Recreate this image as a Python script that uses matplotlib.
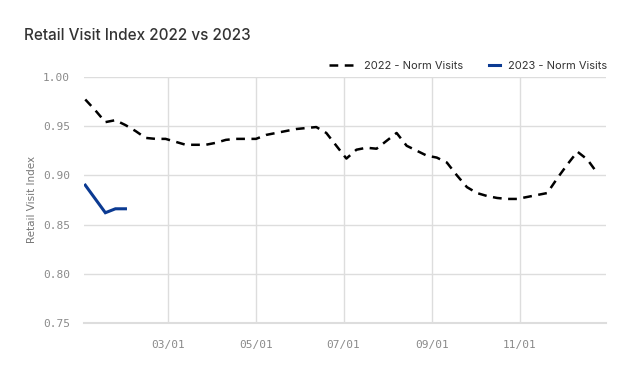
import matplotlib.pyplot as plt
import matplotlib.dates as mdates
from matplotlib.legend_handler import HandlerLine2D
import pandas as pd

# weekly values (week starting dates)
weeks_2022 = pd.date_range("2022-01-02", periods=52, freq="7D")
visits_2022 = [0.977, 0.966, 0.954, 0.956, 0.951, 0.945, 0.938, 0.937, 0.937, 0.934,
               0.931, 0.931, 0.931, 0.933, 0.936, 0.937, 0.937, 0.937, 0.941, 0.943,
               0.945, 0.947, 0.948, 0.949, 0.943, 0.930, 0.917, 0.926, 0.928, 0.927,
               0.935, 0.943, 0.930, 0.925, 0.920, 0.918, 0.913, 0.900, 0.888, 0.882,
               0.879, 0.877, 0.876, 0.876, 0.878, 0.880, 0.882, 0.897, 0.911, 0.924,
               0.916, 0.902]

# 2023 is drawn on the 2022 calendar so both years line up
weeks_2023 = pd.date_range("2022-01-02", periods=5, freq="7D")
visits_2023 = [0.890, 0.876, 0.862, 0.866, 0.866]

month_ticks = ["2022-03-01", "2022-05-01", "2022-07-01", "2022-09-01", "2022-11-01"]
y_ticks = [0.75, 0.80, 0.85, 0.90, 0.95, 1.00]


class ShortHandle(HandlerLine2D):
    # draws a shorter legend line, kept next to the label text
    def __init__(self, frac, **kw):
        super().__init__(**kw)
        self.frac = frac

    def create_artists(self, legend, orig_handle, xdescent, ydescent, width, height,
                       fontsize, trans):
        w = width * self.frac
        return super().create_artists(legend, orig_handle, xdescent - (width - w), ydescent,
                                      w, height, fontsize, trans)


fig = plt.figure(figsize=(6.4, 3.73), dpi=100)
ax = fig.add_axes([0.131, 0.134, 0.816, 0.66])

l22, = ax.plot(weeks_2022, visits_2022, color="black", lw=1.8, ls=(0, (3.5, 2.6)),
               label="2022 - Norm Visits")
l23, = ax.plot(weeks_2023, visits_2023, color="#0b3a92", lw=2.2, solid_joinstyle="miter",
               label="2023 - Norm Visits")

ax.set_xlim(pd.Timestamp("2022-01-01"), pd.Timestamp("2022-12-31"))
ax.set_ylim(0.75, 1.00)
ax.set_yticks(y_ticks)
ax.set_yticklabels([f"{v:.2f}" for v in y_ticks])
ax.set_xticks(pd.to_datetime(month_ticks))
ax.xaxis.set_major_formatter(mdates.DateFormatter("%m/%d"))

for lab in ax.get_xticklabels() + ax.get_yticklabels():
    lab.set_fontfamily("DejaVu Sans Mono")
    lab.set_fontsize(8)
    lab.set_color("#8a8a8a")
ax.tick_params(axis="both", length=0)
ax.tick_params(axis="y", pad=10)
ax.tick_params(axis="x", pad=12)

ax.grid(True, color="#dddddd", lw=1)
ax.set_axisbelow(True)
for s in ["top", "right", "left"]:
    ax.spines[s].set_visible(False)
ax.spines["bottom"].set_color("#dddddd")
ax.spines["bottom"].set_linewidth(1.5)

ax.set_ylabel("Retail Visit Index", fontsize=7.5, color="#777777", labelpad=4,
              family="DejaVu Sans")

fig.text(0.0375, 0.905, "Retail Visit Index 2022 vs 2023", fontsize=11,
         family="Inter", weight="medium", color="#333333", va="center")

leg = ax.legend(handles=[l22, l23], loc="lower right", bbox_to_anchor=(1.022, 0.985),
                ncol=2, frameon=False, handlelength=2.4, columnspacing=0.9,
                handletextpad=0.75, prop={"family": "Inter", "size": 8},
                handler_map={l23: ShortHandle(0.42)})
for t in leg.get_texts():
    t.set_color("#333333")

fig.savefig("out.png", dpi=100)
